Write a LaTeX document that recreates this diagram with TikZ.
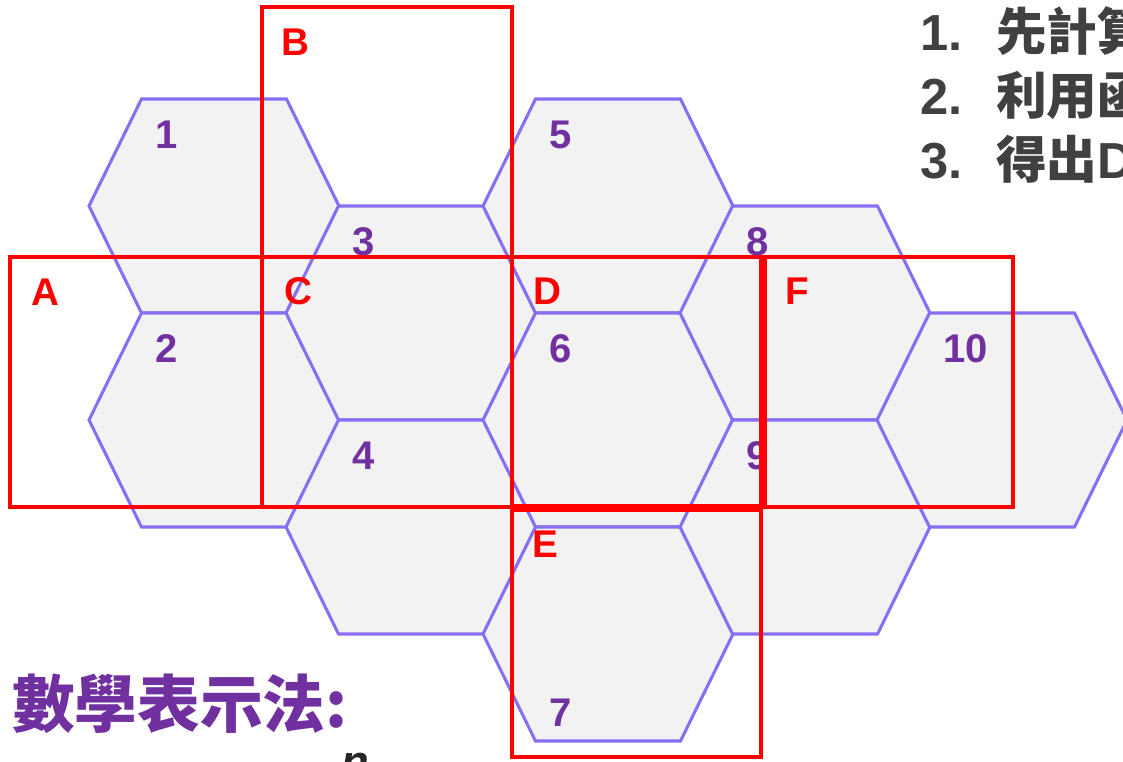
\documentclass[tikz,border=0pt]{standalone}
\usepackage{fontspec}
\setmainfont{Liberation Sans}
\newfontfamily\cjk{Noto Sans CJK TC}
\definecolor{hexline}{RGB}{136,110,242}
\definecolor{hexfill}{RGB}{242,242,242}
\definecolor{numpurple}{RGB}{112,48,160}
\definecolor{boxred}{RGB}{255,0,0}
\definecolor{txtgray}{RGB}{64,64,64}
\tikzset{
  hexcell/.style={draw=hexline, fill=hexfill, line width=2.3pt, line join=miter},
  numlabel/.style={anchor=base west, inner sep=0pt, text=numpurple, font=\fontsize{30}{30}\selectfont\bfseries},
  redbox/.style={draw=boxred, line width=3pt},
  boxlabel/.style={anchor=base west, inner sep=0pt, text=boxred, font=\fontsize{29}{29}\selectfont\bfseries},
  steptext/.style={anchor=base west, inner sep=0pt, text=txtgray, font=\fontsize{38}{38}\selectfont\bfseries},
  titletext/.style={anchor=base west, inner sep=0pt, text=numpurple, font=\fontsize{47}{47}\selectfont\bfseries\cjk},
}
\begin{document}
\begin{tikzpicture}[x=0.75pt,y=-0.75pt]
\useasboundingbox (0,0) rectangle (1123,761);
\clip (0,0) rectangle (1123,761);
% hexagons
\foreach \id/\cx/\cy in {1/214/206, 2/214/420, 3/411/313, 4/411/527, 5/608/206, 6/608/420, 7/608/634, 8/805/313, 9/805/527, 10/1002/420}{
  \draw[hexcell] (\cx-125,\cy) -- (\cx-72.5,\cy-107) -- (\cx+72.5,\cy-107) -- (\cx+125,\cy) -- (\cx+72.5,\cy+107) -- (\cx-72.5,\cy+107) -- cycle;
  \coordinate (hex\id) at (\cx,\cy);
}
\foreach \id/\cx/\cy in {1/214/206, 2/214/420, 3/411/313, 4/411/527, 5/608/206, 6/608/420, 8/805/313, 9/805/527, 10/1002/420}{
  \node[numlabel] (n\id) at (\cx-59,\cy-58) {\id};
}
\node[numlabel] (n7) at (549,726) {7};
% red boxes
\draw[redbox] (10,257) rectangle (262,507);
\draw[redbox] (262,7) rectangle (512,257);
\draw[redbox] (262,257) rectangle (512,507);
\draw[redbox] (512,257) rectangle (761,506);
\draw[redbox] (764.5,257) rectangle (1013,507);
\draw[redbox] (512,510) rectangle (761,757);
\node[boxlabel] (labA) at (31,305) {A};
\node[boxlabel] (labB) at (281,55) {B};
\node[boxlabel] (labC) at (284,304) {C};
\node[boxlabel] (labD) at (533,304) {D};
\node[boxlabel] (labF) at (785,304) {F};
\node[boxlabel] (labE) at (532,557) {E};
% steps
\node[steptext] (s1) at (920,50) {\makebox[57pt][l]{1.}{\cjk 先計算}};
\node[steptext] (s2) at (920,114) {\makebox[57pt][l]{2.}{\cjk 利用函}};
\node[steptext] (s3) at (920,178) {\makebox[57pt][l]{3.}{\cjk 得出}D};
% title
\node[titletext] (title) at (12,727) {數學表示法:};
\node[anchor=base west, inner sep=0pt, text=black!85, font=\fontsize{34}{34}\selectfont] (nsym) at (341,777) {\textit{\bfseries n}};
\end{tikzpicture}
\end{document}
